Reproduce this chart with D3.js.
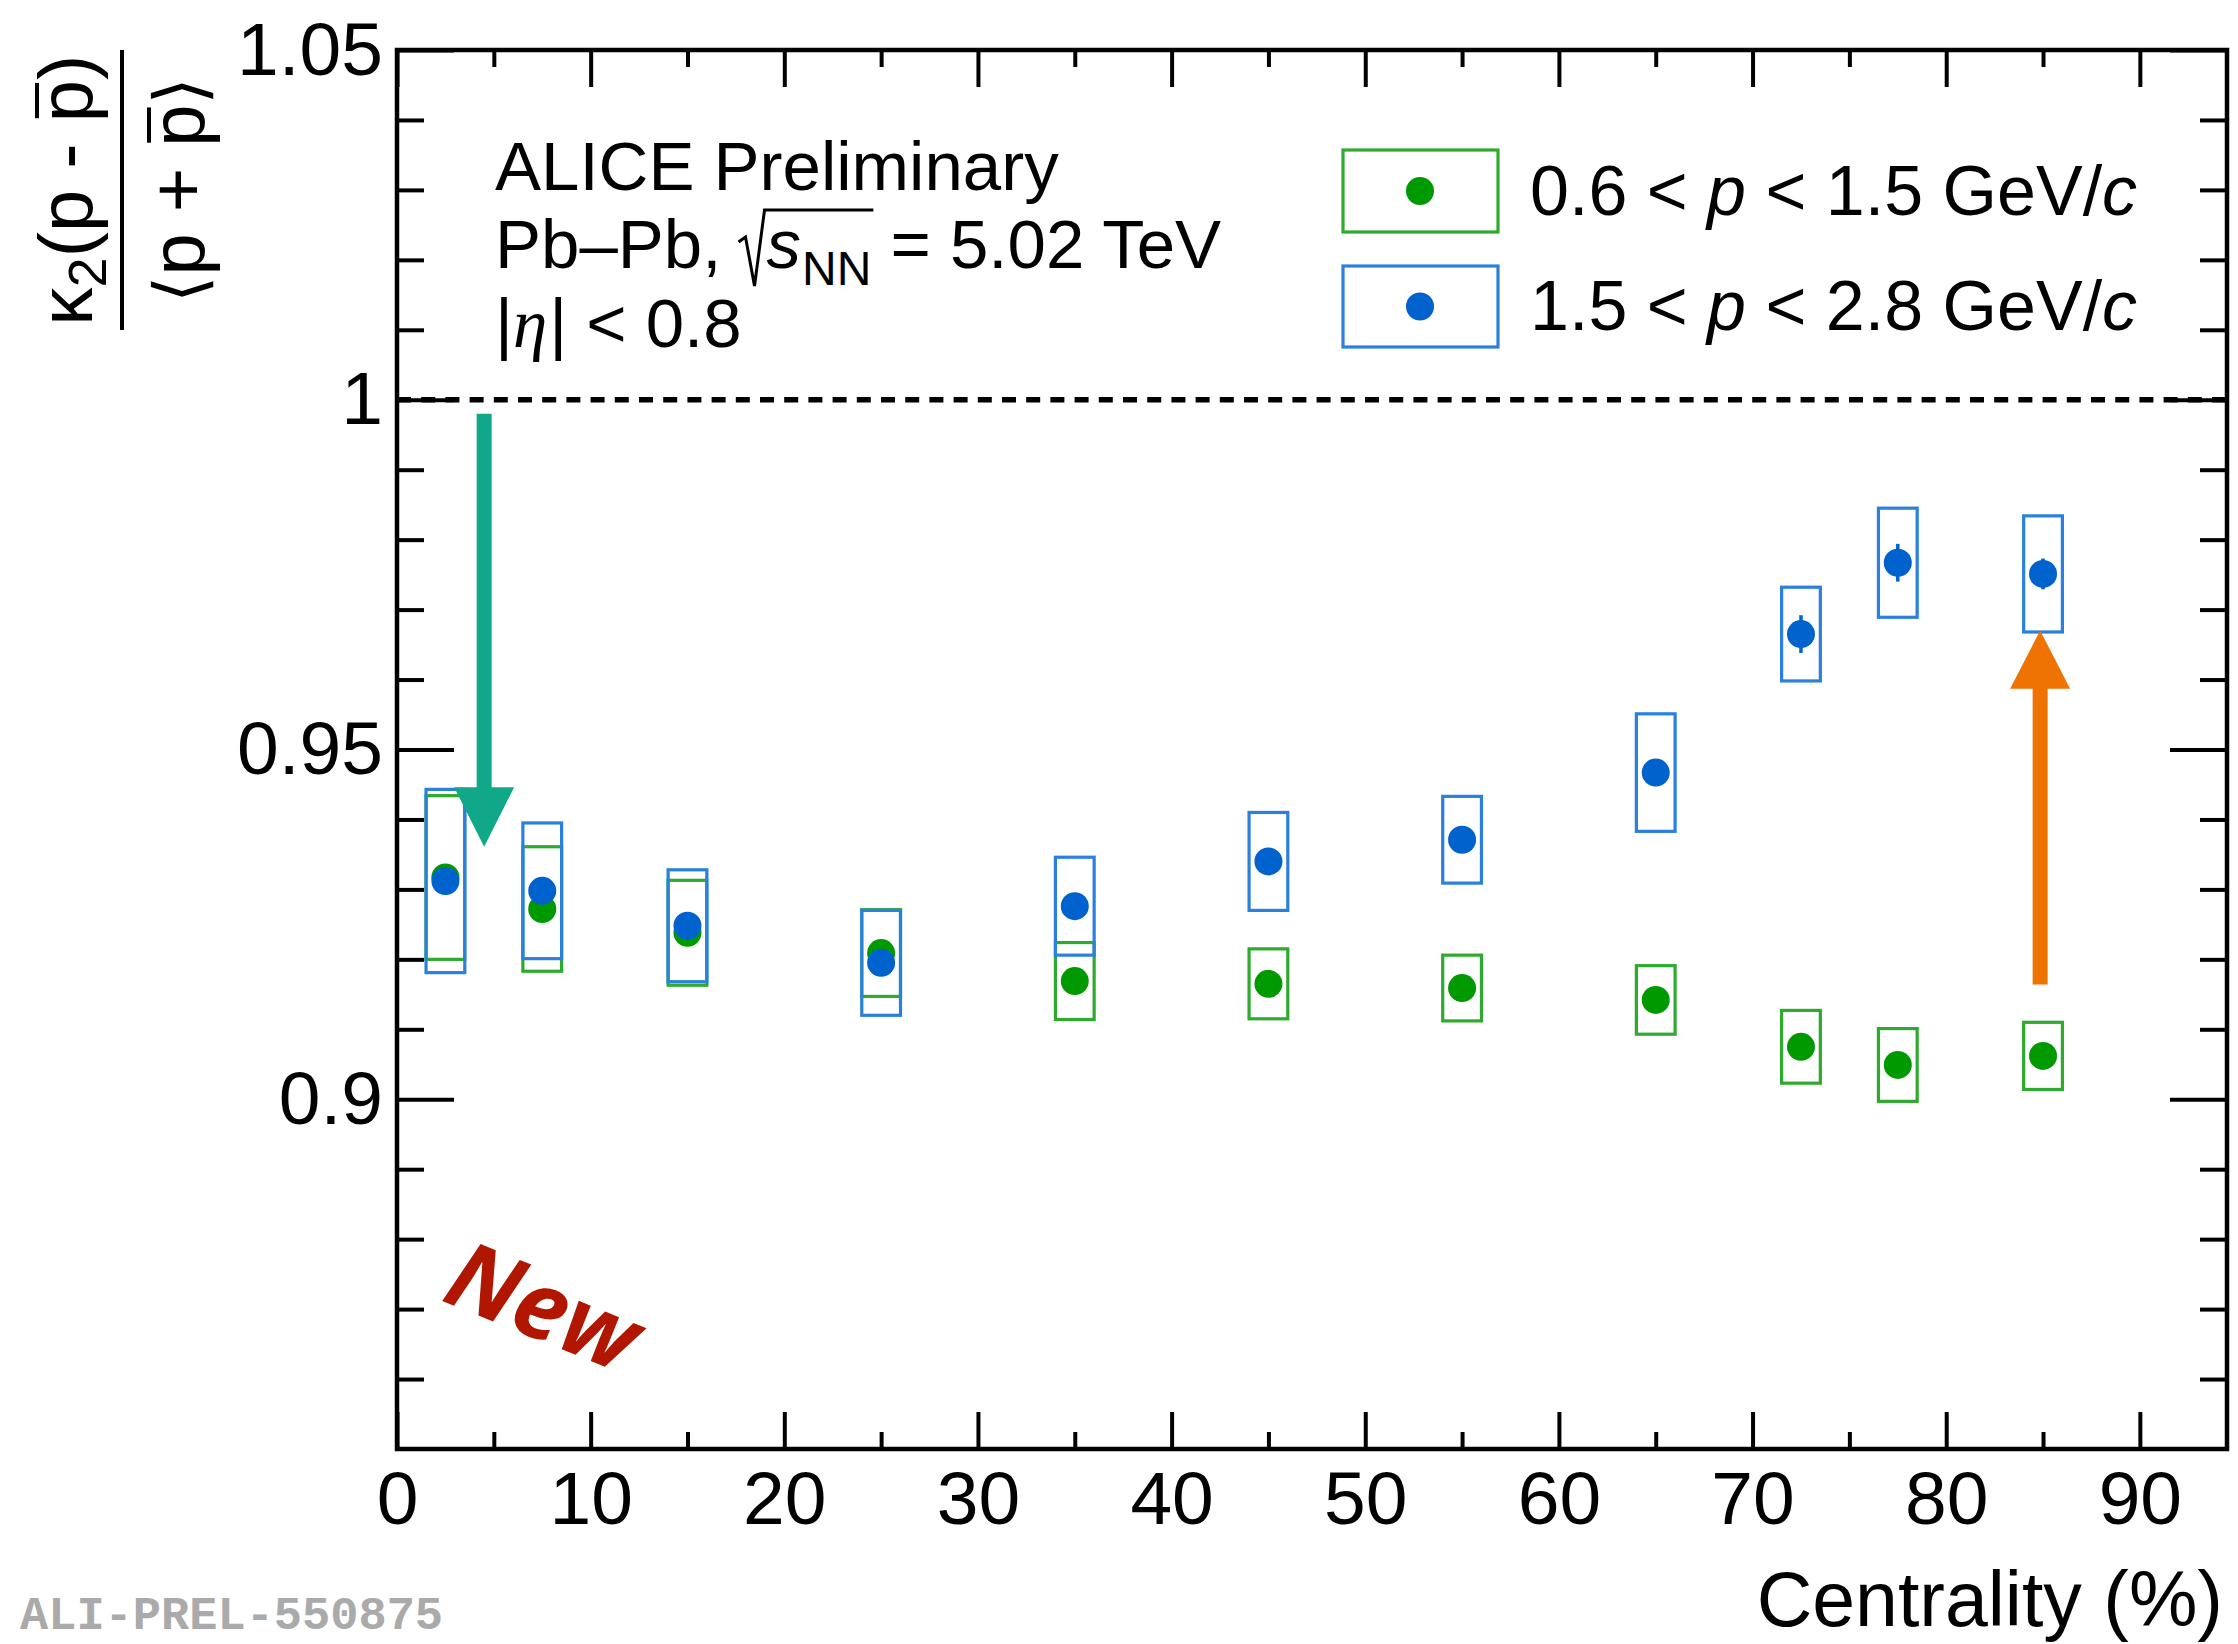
<!DOCTYPE html>
<html><head><meta charset="utf-8">
<script src="https://cdn.jsdelivr.net/npm/d3@7"></script>
<style>
html,body{margin:0;padding:0;background:#fff;}
svg{display:block;}
text{white-space:pre;}
</style>
</head><body>
<svg id="chart" width="2238" height="1644" font-family="Liberation Sans, Arial, Helvetica, sans-serif"></svg>
<script>
// ---------------- data ----------------
const centrality = [2.5, 7.5, 15, 25, 35, 45, 55, 65, 72.5, 77.5, 85];
const binHalfWidth = [1, 1, 1, 1, 1, 1, 1, 1, 1, 1, 1];

const lowPLabel = "0.6 < p < 1.5 GeV/c";
const lowPValues = [0.9317, 0.9272, 0.9238, 0.9209, 0.9169, 0.9165, 0.9159, 0.9142, 0.9075, 0.9049, 0.9062];
const lowPSys    = [0.0117, 0.0089, 0.0075, 0.0062, 0.0055, 0.0050, 0.0047, 0.0049, 0.0052, 0.0052, 0.0048];
const lowPStat   = [0.0008, 0.0008, 0.0008, 0.0008, 0.0008, 0.0008, 0.0009, 0.0010, 0.0012, 0.0012, 0.0012];

const highPLabel = "1.5 < p < 2.8 GeV/c";
const highPValues = [0.9312, 0.9298, 0.9248, 0.9195, 0.9276, 0.9340, 0.9371, 0.9467, 0.9665, 0.9767, 0.9751];
const highPSys    = [0.0131, 0.0097, 0.0080, 0.0075, 0.0070, 0.0070, 0.0062, 0.0084, 0.0067, 0.0078, 0.0083];
const highPStat   = [0.0010, 0.0010, 0.0010, 0.0010, 0.0012, 0.0012, 0.0015, 0.0018, 0.0027, 0.0027, 0.0022];

const xTicksMajor = [0, 10, 20, 30, 40, 50, 60, 70, 80, 90];
const xTicksMinor = [5, 15, 25, 35, 45, 55, 65, 75, 85];
const yTicksMajor = [0.9, 0.95, 1.0, 1.05];
const yTicksMinor = [0.86, 0.87, 0.88, 0.89, 0.91, 0.92, 0.93, 0.94, 0.96, 0.97, 0.98, 0.99, 1.01, 1.02, 1.03, 1.04];
const referenceLine = 1.0;

// annotation arrows: x position, tail value, tip value, head-base value
const downArrow = {x: 4.5, from: 0.998, to: 0.9361, headBase: 0.9446};
const upArrow   = {x: 84.85, from: 0.9164, to: 0.9670, headBase: 0.9587};

// ---------------- setup ----------------
const W = 2238, H = 1644;
const M = {left: 397, right: 2227, top: 50, bottom: 1449};
const svg = d3.select('#chart');
svg.append('rect').attr('width', W).attr('height', H).attr('fill', '#fff');

const x = d3.scaleLinear().domain([0, 94.5]).range([M.left, M.right]);
const y = d3.scaleLinear().domain([0.85, 1.05]).range([M.bottom, M.top]);

const FONT = 'Liberation Sans, Arial, Helvetica, sans-serif';
const COL = {
  greenMarker: '#009a00', greenBox: '#2eaa2e',
  blueMarker: '#0062cc', blueBox: '#2a80dc',
  teal: '#10a888', orange: '#ef7300', red: '#b01600'
};

function styleAxis(g, withLabels) {
  g.select('.domain').remove();
  g.selectAll('.tick line').attr('stroke', '#000').attr('stroke-width', 4);
  if (withLabels) {
    g.selectAll('.tick text').attr('font-family', FONT).attr('font-size', 75).attr('fill', '#000');
  } else {
    g.selectAll('.tick text').remove();
  }
}
const yFmt = d => String(+d.toFixed(2));

// bottom axis
svg.append('g').attr('transform', `translate(0,${M.bottom})`)
  .call(d3.axisBottom(x).tickValues(xTicksMajor).tickSize(-37).tickPadding(22).tickFormat(d3.format('d')))
  .call(g => styleAxis(g, true));
svg.append('g').attr('transform', `translate(0,${M.bottom})`)
  .call(d3.axisBottom(x).tickValues(xTicksMinor).tickSize(-17).tickFormat(''))
  .call(g => styleAxis(g, false));
// top axis
svg.append('g').attr('transform', `translate(0,${M.top})`)
  .call(d3.axisTop(x).tickValues(xTicksMajor).tickSize(-37).tickFormat(''))
  .call(g => styleAxis(g, false));
svg.append('g').attr('transform', `translate(0,${M.top})`)
  .call(d3.axisTop(x).tickValues(xTicksMinor).tickSize(-17).tickFormat(''))
  .call(g => styleAxis(g, false));
// left axis
svg.append('g').attr('transform', `translate(${M.left},0)`)
  .call(d3.axisLeft(y).tickValues(yTicksMajor).tickSize(-57).tickPadding(14).tickFormat(yFmt))
  .call(g => styleAxis(g, true));
svg.append('g').attr('transform', `translate(${M.left},0)`)
  .call(d3.axisLeft(y).tickValues(yTicksMinor).tickSize(-27).tickFormat(''))
  .call(g => styleAxis(g, false));
// right axis
svg.append('g').attr('transform', `translate(${M.right},0)`)
  .call(d3.axisRight(y).tickValues(yTicksMajor).tickSize(-57).tickFormat(''))
  .call(g => styleAxis(g, false));
svg.append('g').attr('transform', `translate(${M.right},0)`)
  .call(d3.axisRight(y).tickValues(yTicksMinor).tickSize(-27).tickFormat(''))
  .call(g => styleAxis(g, false));

// frame
svg.append('rect').attr('x', M.left).attr('y', M.top)
  .attr('width', M.right - M.left).attr('height', M.bottom - M.top)
  .attr('fill', 'none').attr('stroke', '#000').attr('stroke-width', 4.5);

// reference dashed line
svg.append('line').attr('x1', x(0)).attr('x2', x(94.5))
  .attr('y1', y(referenceLine)).attr('y2', y(referenceLine))
  .attr('stroke', '#000').attr('stroke-width', 5.5).attr('stroke-dasharray', '14,10.2');

// ---------------- series ----------------
function drawSeries(vals, sys, stat, markerColor, boxColor) {
  const g = svg.append('g');
  g.selectAll('rect').data(centrality).join('rect')
    .attr('x', (d, i) => x(d - binHalfWidth[i]))
    .attr('width', (d, i) => x(d + binHalfWidth[i]) - x(d - binHalfWidth[i]))
    .attr('y', (d, i) => y(vals[i] + sys[i]))
    .attr('height', (d, i) => y(vals[i] - sys[i]) - y(vals[i] + sys[i]))
    .attr('fill', 'none').attr('stroke', boxColor).attr('stroke-width', 3.2);
  g.selectAll('line').data(centrality).join('line')
    .attr('x1', d => x(d)).attr('x2', d => x(d))
    .attr('y1', (d, i) => y(vals[i] + stat[i])).attr('y2', (d, i) => y(vals[i] - stat[i]))
    .attr('stroke', markerColor).attr('stroke-width', 3.5);
  g.selectAll('circle').data(centrality).join('circle')
    .attr('cx', d => x(d)).attr('cy', (d, i) => y(vals[i]))
    .attr('r', 14).attr('fill', markerColor);
}
drawSeries(lowPValues, lowPSys, lowPStat, COL.greenMarker, COL.greenBox);
drawSeries(highPValues, highPSys, highPStat, COL.blueMarker, COL.blueBox);

// ---------------- arrows ----------------
function drawArrow(a, color) {
  const sw = 7.5, hw = 30;
  const xc = x(a.x);
  const pts = [
    [xc - sw, y(a.from)], [xc + sw, y(a.from)], [xc + sw, y(a.headBase)],
    [xc + hw, y(a.headBase)], [xc, y(a.to)], [xc - hw, y(a.headBase)], [xc - sw, y(a.headBase)]
  ];
  svg.append('polygon').attr('points', pts.map(p => p.join(',')).join(' ')).attr('fill', color);
}
drawArrow(downArrow, COL.teal);
drawArrow(upArrow, COL.orange);

// ---------------- texts ----------------
function seq(parent, x0, yb, parts) {
  let cx = x0;
  parts.forEach(p => {
    const t = parent.append('text').attr('x', cx).attr('y', yb + (p.dy || 0))
      .attr('font-size', p.size).attr('fill', '#000')
      .attr('font-family', p.family || FONT)
      .attr('font-style', p.italic ? 'italic' : 'normal')
      .attr('xml:space', 'preserve')
      .text(p.t);
    cx += t.node().getComputedTextLength() + (p.after || 0);
  });
  return cx;
}

const TS = 69;
const info = svg.append('g');
seq(info, 495, 190, [{t: 'ALICE Preliminary', size: TS}]);
// line 2 with sqrt
{
  const yb = 268;
  const xAfterPb = seq(info, 495, yb, [{t: 'Pb\u2013Pb, ', size: TS}]);
  const r0 = xAfterPb - 2;
  const sStart = r0 + 28;
  const xAfterNN = seq(info, sStart, yb, [
    {t: 's', size: TS, italic: true, after: 1},
    {t: 'NN', size: 48, dy: 17}
  ]);
  seq(info, xAfterNN, yb, [{t: ' = 5.02 TeV', size: TS}]);
  info.append('path')
    .attr('d', `M${r0},${yb - 26} L${r0 + 7},${yb - 31} L${r0 + 16},${yb + 18} L${r0 + 26},${yb - 58} H${xAfterNN + 2}`)
    .attr('fill', 'none').attr('stroke', '#000').attr('stroke-width', 3).attr('stroke-linejoin', 'miter');
}
seq(info, 495, 347, [
  {t: '|', size: TS},
  {t: '\u03B7', size: TS, italic: true, family: 'Liberation Serif, Times New Roman, serif', after: 2},
  {t: '| < 0.8', size: TS}
]);

// legend
const legend = svg.append('g');
const legendRows = [
  {label: lowPLabel, marker: COL.greenMarker, box: COL.greenBox, top: 150, h: 82, text: 215},
  {label: highPLabel, marker: COL.blueMarker, box: COL.blueBox, top: 266, h: 81, text: 330}
];
legendRows.forEach(r => {
  legend.append('rect').attr('x', 1343).attr('y', r.top).attr('width', 155).attr('height', r.h)
    .attr('fill', 'none').attr('stroke', r.box).attr('stroke-width', 3.2);
  legend.append('circle').attr('cx', 1420).attr('cy', r.top + r.h / 2).attr('r', 14).attr('fill', r.marker);
  const parts = r.label.split(' ');
  const lo = parts[0], hi = parts[4];
  seq(legend, 1530, r.text, [
    {t: lo + ' < ', size: 70},
    {t: 'p', size: 70, italic: true},
    {t: ' < ' + hi + ' GeV/', size: 70},
    {t: 'c', size: 70, italic: true}
  ]);
});

// y-axis title (fraction)
{
  const g = svg.append('g').attr('transform', 'translate(92,190) rotate(-90)');
  const fs = 76;
  const num = g.append('text').attr('x', 0).attr('y', 0).attr('text-anchor', 'middle')
    .attr('font-size', fs).attr('fill', '#000');
  num.append('tspan').text('\u03BA');
  num.append('tspan').attr('font-size', 54).attr('dy', 14).text('2');
  num.append('tspan').attr('dy', -14).text('(p - p)');
  const den = g.append('text').attr('x', 0).attr('y', 112).attr('text-anchor', 'middle')
    .attr('font-size', fs).attr('fill', '#000');
  den.append('tspan').attr('font-family', 'DejaVu Sans, sans-serif').attr('font-size', 70).text('\u27E8');
  den.append('tspan').text('p + p');
  den.append('tspan').attr('font-family', 'DejaVu Sans, sans-serif').attr('font-size', 70).text('\u27E9');
  g.append('line').attr('x1', -140).attr('x2', 140).attr('y1', 30).attr('y2', 30)
    .attr('stroke', '#000').attr('stroke-width', 4);
  function bar(textSel, idx, baseY) {
    const e = textSel.node().getExtentOfChar(idx);
    g.append('line').attr('x1', e.x + 4).attr('x2', e.x + e.width - 3)
      .attr('y1', baseY - 55).attr('y2', baseY - 55)
      .attr('stroke', '#000').attr('stroke-width', 4);
  }
  bar(num, 7, 0);
  bar(den, 5, 112);
}

// x-axis title
svg.append('text').attr('x', 2223).attr('y', 1626).attr('text-anchor', 'end')
  .attr('font-size', 77).attr('fill', '#000').text('Centrality (%)');

// "New" stamp
svg.append('text').attr('transform', 'translate(440,1300) rotate(22)')
  .attr('font-family', 'Open Sans, Lato, sans-serif').attr('font-weight', 700).attr('font-style', 'italic')
  .attr('font-size', 94).attr('fill', COL.red).text('New');

// preliminary id
svg.append('text').attr('x', 20).attr('y', 1629)
  .attr('font-family', 'Liberation Mono, DejaVu Sans Mono, Courier New, monospace').attr('font-weight', 700)
  .attr('font-size', 47).attr('fill', '#aaaaaa').text('ALI-PREL-550875');
</script>
</body></html>
